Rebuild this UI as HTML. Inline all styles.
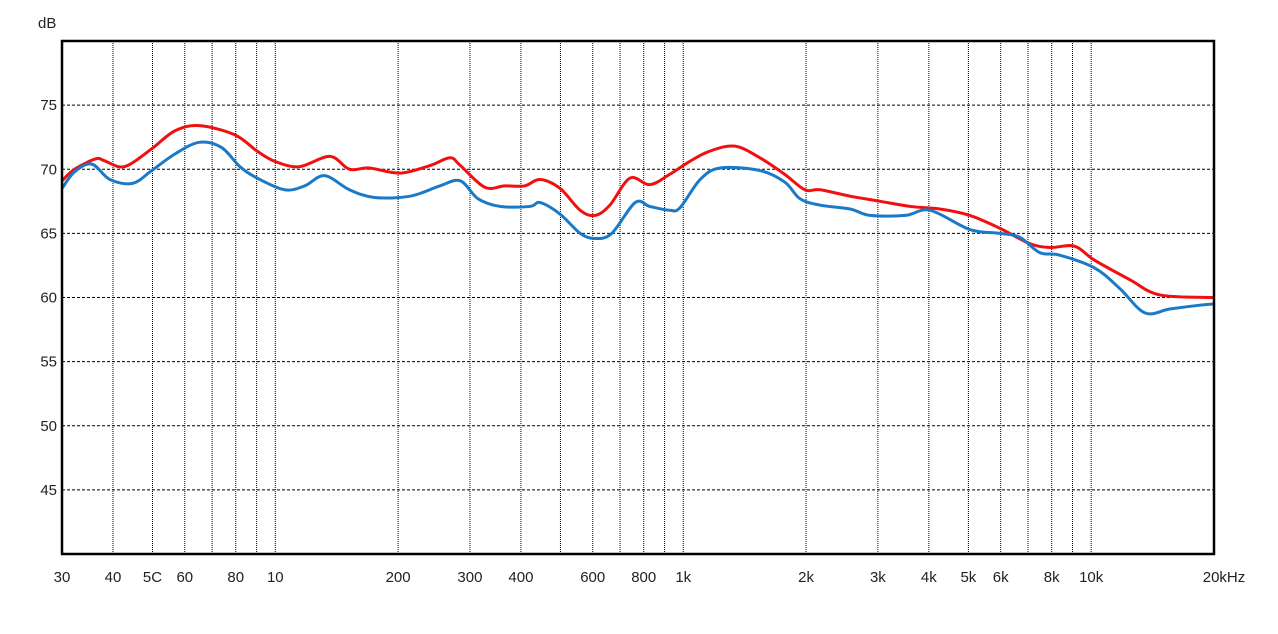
<!DOCTYPE html>
<html><head><meta charset="utf-8"><style>
body{margin:0;background:#fff;}
svg text{font-family:"Liberation Sans",sans-serif;font-size:15px;fill:#222;}
</style></head><body>
<svg id="c" width="1278" height="629"></svg>
<script>
const yTicks=[45,50,55,60,65,70,75];
const xGrid=[40,50,60,70,80,90,100,200,300,400,500,600,700,800,900,1000,2000,3000,4000,5000,6000,7000,8000,9000,10000];
const xTickVals=[30,40,50,60,80,100,200,300,400,600,800,1000,2000,3000,4000,5000,6000,8000,10000,20000];
const xTickLabels=["30","40","5C","60","80","10","200","300","400","600","800","1k","2k","3k","4k","5k","6k","8k","10k","20kHz"];
const redF=[30,32.2,36.2,37.9,41.3,44.1,49.8,56.8,65.1,79.4,90.4,100,114.6,136,152,170,202,240,268,284,326,365,408,446,499,559,608,661,740,828,926,1036,1159,1338,1540,1773,1987,2166,2565,3040,3600,4260,5040,5970,7070,7940,9100,10200,12420,14730,20000];
const redDB=[69.1,70,70.8,70.7,70.2,70.4,71.6,73,73.4,72.7,71.4,70.6,70.2,71,70,70.1,69.7,70.3,70.9,70.3,68.6,68.7,68.7,69.2,68.5,66.8,66.4,67.2,69.3,68.8,69.6,70.6,71.4,71.8,70.9,69.6,68.4,68.4,67.9,67.5,67.1,66.9,66.4,65.4,64.2,63.9,64,62.9,61.4,60.2,60];
const blueF=[30,32.2,35.5,39.3,44.7,49.8,56.8,65.1,73.8,81.9,90.4,105.4,118,132,152,175,214,253,284,314,356,421,446,499,559,608,668,762,828,926,982,1100,1232,1540,1773,1933,2166,2565,2873,3500,4030,5040,5970,6680,7480,8370,10200,11750,13540,15570,18450,20000];
const blueDB=[68.5,69.8,70.4,69.2,68.9,69.9,71.2,72.1,71.7,70.2,69.3,68.4,68.7,69.5,68.4,67.8,67.9,68.7,69.1,67.7,67.1,67.1,67.4,66.5,65,64.6,65,67.4,67.1,66.8,67,69.2,70.1,69.9,69,67.7,67.2,66.9,66.4,66.4,66.8,65.3,65,64.7,63.5,63.3,62.3,60.7,58.8,59.1,59.4,59.5];

const L=62,R=1214,T=41,B=554;
const X=f=>L+(R-L)*Math.log10(f/30)/Math.log10(20000/30);
const Y=v=>B-(B-T)*(v-40)/40;
const svg=document.getElementById('c');const NS='http://www.w3.org/2000/svg';
function mk(t,a,p){const e=document.createElementNS(NS,t);for(const k in a)e.setAttribute(k,a[k]);(p||svg).appendChild(e);return e;}
for(const v of yTicks){
 const l=mk('line',{x1:L,x2:R,y1:Y(v),y2:Y(v),stroke:'#000','stroke-width':1,'stroke-dasharray':'3,2'});
 
 
 const t=mk('text',{x:L-5,y:Y(v)+5,'text-anchor':'end'});t.textContent=v;
 
 
}
for(const f of xGrid){
 const l=mk('line',{x1:X(f),x2:X(f),y1:T,y2:B,stroke:'#000','stroke-width':1,'stroke-dasharray':'1,1'});
 
 
}
xTickVals.forEach((f,i)=>{
 const anc=i==xTickVals.length-1?'middle':'middle';
 const t=mk('text',{x:X(f)+(i==xTickVals.length-1?10:0),y:582,'text-anchor':anc});t.textContent=xTickLabels[i];
 
 
});
const u=mk('text',{x:38,y:28});u.textContent='dB';


function path(F,D){
 const p=F.map((f,i)=>[X(f),Y(D[i])]);
 let d='M'+p[0][0]+','+p[0][1];
 for(let i=0;i<p.length-1;i++){
  const p0=p[Math.max(0,i-1)],p1=p[i],p2=p[i+1],p3=p[Math.min(p.length-1,i+2)];
  const c1=[p1[0]+(p2[0]-p0[0])/6,p1[1]+(p2[1]-p0[1])/6],c2=[p2[0]-(p3[0]-p1[0])/6,p2[1]-(p3[1]-p1[1])/6];
  d+=`C${c1[0]},${c1[1]} ${c2[0]},${c2[1]} ${p2[0]},${p2[1]}`;
 }
 return d;
}
const rl=mk('path',{d:path(redF,redDB),fill:'none',stroke:'#f01010','stroke-width':3});


const bl=mk('path',{d:path(blueF,blueDB),fill:'none',stroke:'#1a7ac8','stroke-width':3});


const fr=mk('rect',{x:L,y:T,width:R-L,height:B-T,fill:'none',stroke:'#000','stroke-width':2.5});


</script>
</body></html>
